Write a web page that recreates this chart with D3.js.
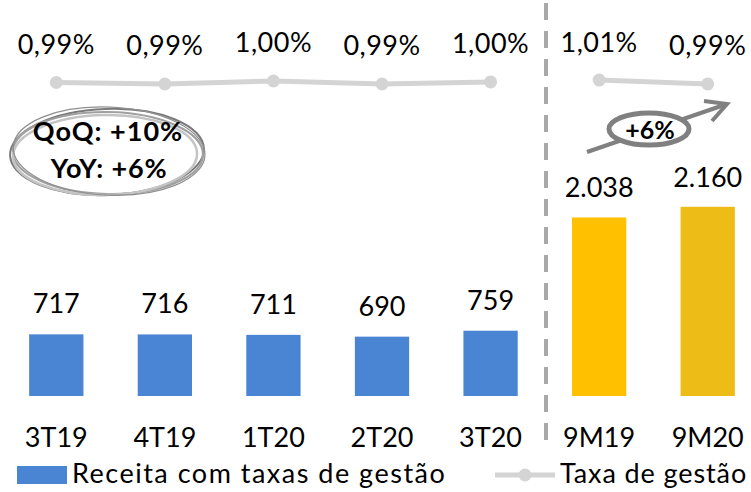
<!DOCTYPE html>
<html><head><meta charset="utf-8">
<script src="https://cdn.jsdelivr.net/npm/d3@7"></script>
<style>body{margin:0;background:#fff}svg{display:block;font-family:Lato,"Open Sans",sans-serif}</style>
</head><body><svg id="c" width="751" height="492"></svg>
<script>
const quarters = ["3T19","4T19","1T20","2T20","3T20"];
const periods = ["9M19","9M20"];
const quarterRevenue = [717,716,711,690,759];
const periodRevenue = [2038,2160];
const quarterRate = [0.994,0.986,1.002,0.986,0.997];
const periodRate = [1.007,0.986];
const periodColors = ["#ffc000","#eebc16"];
const seriesNames = ["Receita com taxas de gestão","Taxa de gestão"];
const qoqText = ["QoQ: +10%","YoY: +6%"];
const growthText = "+6%";

const blue = "#4a85d4", lineGray = "#d4d4d4";
const loc = d3.formatLocale({decimal:",", thousands:".", grouping:[3], currency:["R$",""]});
const fmtInt = loc.format(",d");
const fmtRate = v => loc.format(".2f")(v) + "%";

const svg = d3.select("#c");
const base = 396;
const x = d3.scaleBand().domain([...quarters, ...periods]).range([2, 762]).paddingInner(0.5).paddingOuter(0.25);
const yQ = d3.scaleLinear().domain([0, 1000]).range([base, base - 86]);
const yP = d3.scaleLinear().domain([0, 2500]).range([base, base - 219]);
const yR = d3.scaleLinear().domain([0.98, 1.01]).range([85.1, 79.5]);
const cx = c => x(c) + x.bandwidth() / 2;

// divider
svg.append("line").attr("x1", 546).attr("x2", 546).attr("y1", 3).attr("y2", 440)
  .attr("stroke", "#a8a8a8").attr("stroke-width", 4).attr("stroke-dasharray", "17,11");

// bars
svg.selectAll(".bq").data(quarters).join("rect")
  .attr("x", d => x(d)).attr("width", x.bandwidth())
  .attr("y", (d, i) => yQ(quarterRevenue[i])).attr("height", (d, i) => base - yQ(quarterRevenue[i]))
  .attr("fill", blue);
svg.selectAll(".bp").data(periods).join("rect")
  .attr("x", d => x(d)).attr("width", x.bandwidth())
  .attr("y", (d, i) => yP(periodRevenue[i])).attr("height", (d, i) => base - yP(periodRevenue[i]))
  .attr("fill", (d, i) => periodColors[i]);

// bar labels
const fs = 27;
svg.selectAll(".lq").data(quarters).join("text")
  .attr("x", cx).attr("y", (d, i) => yQ(quarterRevenue[i]) - 21)
  .attr("text-anchor", "middle").attr("font-size", fs).text((d, i) => fmtInt(quarterRevenue[i]));
svg.selectAll(".lp").data(periods).join("text")
  .attr("x", cx).attr("y", (d, i) => yP(periodRevenue[i]) - 20)
  .attr("text-anchor", "middle").attr("font-size", fs).text((d, i) => fmtInt(periodRevenue[i]));

// rate lines
function rateSeries(cats, vals) {
  const pts = cats.map((c, i) => [cx(c), yR(vals[i]), vals[i]]);
  svg.append("path").attr("d", d3.line()(pts.map(p => [p[0], p[1]])))
    .attr("fill", "none").attr("stroke", lineGray).attr("stroke-width", 5);
  svg.append("g").selectAll("circle").data(pts).join("circle")
    .attr("cx", p => p[0]).attr("cy", p => p[1]).attr("r", 6.5).attr("fill", lineGray);
  svg.append("g").selectAll("text").data(pts).join("text")
    .attr("x", p => p[0]).attr("y", p => p[1] - 28.5).attr("text-anchor", "middle")
    .attr("font-size", fs).attr("letter-spacing", 0.5).text(p => fmtRate(p[2]));
}
rateSeries(quarters, quarterRate);
rateSeries(periods, periodRate);

// x axis
const ax = svg.append("g").attr("transform", `translate(0,${base})`)
  .call(d3.axisBottom(x).tickSize(0));
ax.select(".domain").remove();
ax.selectAll("text").attr("y", 51).attr("dy", null).attr("font-size", fs)
  .attr("font-family", "Lato,'Open Sans',sans-serif").attr("fill", "#000");

// sketchy ellipse annotation
const eg = svg.append("g").attr("transform", "translate(107,152)");
[[0, 0, 97, 43, -2, "#7a7a7a", 2], [1, 1, 95, 41, 1, "#a0a0a0", 2.2], [-2, 3, 92, 40, -1, "#c4c4c4", 2.5], [2, -1, 96, 44, 2.5, "#909090", 1.3]]
  .forEach(([dx, dy, rx, ry, rot, col, w]) => {
    eg.append("ellipse").attr("cx", dx).attr("cy", dy).attr("rx", rx).attr("ry", ry)
      .attr("transform", `rotate(${rot})`).attr("fill", "none").attr("stroke", col).attr("stroke-width", w);
  });
svg.append("text").attr("x", 108).attr("y", 141).attr("text-anchor", "middle")
  .attr("font-size", 27).attr("font-weight", "bold").attr("letter-spacing", 1).text(qoqText[0]);
svg.append("text").attr("x", 109).attr("y", 178).attr("text-anchor", "middle")
  .attr("font-size", 27).attr("font-weight", "bold").attr("letter-spacing", 0.8).text(qoqText[1]);

// growth arrow
const ag = "#808080";
svg.append("line").attr("x1", 587).attr("y1", 152).attr("x2", 727).attr("y2", 104)
  .attr("stroke", ag).attr("stroke-width", 4);
svg.append("path").attr("d", "M704,101 L727,104 L712,121").attr("fill", "none")
  .attr("stroke", ag).attr("stroke-width", 4).attr("stroke-linejoin", "miter");
svg.append("ellipse").attr("cx", 649).attr("cy", 129).attr("rx", 40).attr("ry", 16)
  .attr("fill", "#fff").attr("stroke", ag).attr("stroke-width", 5);
svg.append("text").attr("x", 650).attr("y", 139).attr("text-anchor", "middle")
  .attr("font-size", 25).attr("font-weight", "bold").text(growthText);

// legend
svg.append("rect").attr("x", 17).attr("y", 466).attr("width", 50).attr("height", 18).attr("fill", blue);
svg.append("text").attr("x", 72).attr("y", 483).attr("font-size", fs).attr("letter-spacing", 1.5).text(seriesNames[0]);
svg.append("line").attr("x1", 495).attr("x2", 555).attr("y1", 475).attr("y2", 475)
  .attr("stroke", lineGray).attr("stroke-width", 5);
svg.append("circle").attr("cx", 525).attr("cy", 475).attr("r", 6.5).attr("fill", lineGray);
svg.append("text").attr("x", 560).attr("y", 483).attr("font-size", fs).attr("letter-spacing", 0.9).text(seriesNames[1]);
</script></body></html>
